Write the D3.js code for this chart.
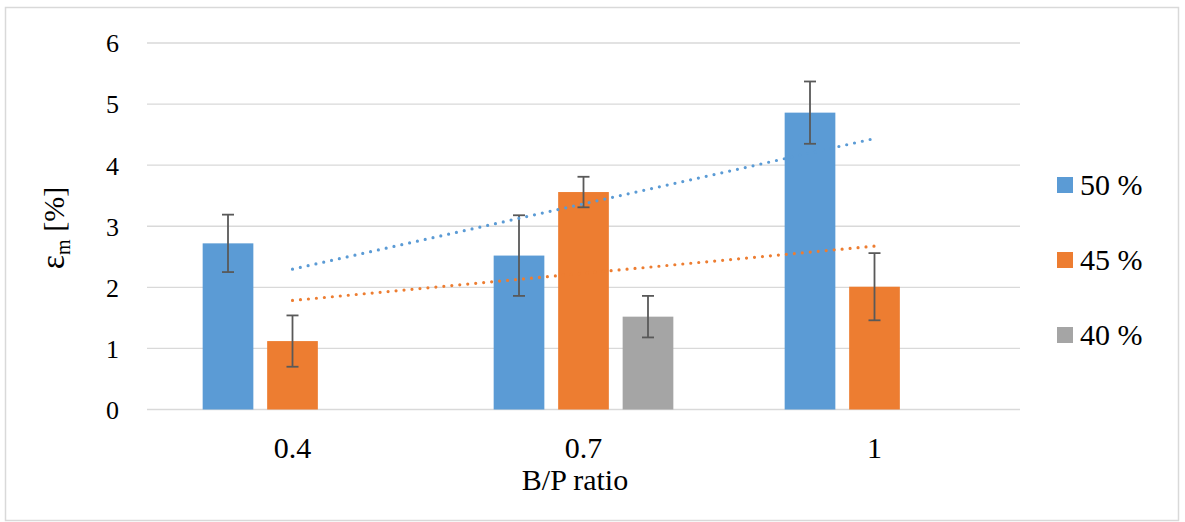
<!DOCTYPE html>
<html>
<head>
<meta charset="utf-8">
<script src="https://cdn.jsdelivr.net/npm/d3@7"></script>
<style>
  html, body { margin: 0; padding: 0; background: #fff; }
  svg { display: block; }
</style>
</head>
<body>
<svg id="chart" width="1185" height="522" font-family="'Liberation Serif', 'Times New Roman', 'DejaVu Serif', serif"></svg>
<script>
// ---- data ----
const categories = ["0.4", "0.7", "1"];
const seriesNames = ["50 %", "45 %", "40 %"];
const values50 = [2.72, 2.52, 4.86];
const values45 = [1.12, 3.56, 2.01];
const values40 = [null, 1.52, null];
const err50 = [0.47, 0.66, 0.51];
const err45 = [0.42, 0.25, 0.55];
const err40 = [null, 0.34, null];
const yTicks = [0, 1, 2, 3, 4, 5, 6];
const seriesColors = ["#5B9BD5", "#ED7D31", "#A5A5A5"];

const allValues = [values50, values45, values40];
const allErrors = [err50, err45, err40];
const FONT = "'Liberation Serif', 'Times New Roman', 'DejaVu Serif', serif";

// ---- layout ----
const svg = d3.select("#chart");
const plot = { left: 147, right: 1020, top: 43, bottom: 409.5 };

// chart border
svg.append("rect")
  .attr("x", 5.5).attr("y", 7.5)
  .attr("width", 1173).attr("height", 513)
  .attr("fill", "none").attr("stroke", "#D9D9D9").attr("stroke-width", 1.5);

const y = d3.scaleLinear().domain([0, 6]).range([plot.bottom, plot.top]);
const x0 = d3.scaleBand().domain(categories).range([plot.left, plot.right]).padding(0);
const x1 = d3.scaleBand().domain(seriesNames).range([0, x0.bandwidth()])
  .paddingInner(0.214).paddingOuter(0.863);

// gridlines
svg.append("g").selectAll("line").data(yTicks).join("line")
  .attr("x1", plot.left).attr("x2", plot.right)
  .attr("y1", d => y(d)).attr("y2", d => y(d))
  .attr("stroke", "#D9D9D9").attr("stroke-width", 1.3);

// y axis tick labels
const yAxis = d3.axisLeft(y).tickValues(yTicks).tickSize(0).tickPadding(0).tickFormat(d3.format("d"));
const gy = svg.append("g").attr("transform", "translate(119,0)").call(yAxis)
  .attr("font-family", FONT).attr("font-size", 26);
gy.select(".domain").remove();
gy.selectAll("text").attr("font-family", FONT).attr("font-size", 26)
  .attr("fill", "#000").attr("dy", "0.34em");

// x axis labels
const xAxis = d3.axisBottom(x0).tickSize(0).tickPadding(0);
const gx = svg.append("g").attr("transform", "translate(0,457.5)").call(xAxis)
  .attr("font-family", FONT).attr("font-size", 30);
gx.select(".domain").remove();
gx.selectAll("text").attr("font-family", FONT).attr("font-size", 30)
  .attr("fill", "#000").attr("dy", 0).attr("y", 0);

// bars
const barData = [];
categories.forEach((c, ci) => {
  seriesNames.forEach((s, si) => {
    const v = allValues[si][ci];
    if (v != null) barData.push({ c, s, si, v, e: allErrors[si][ci] });
  });
});

svg.append("g").selectAll("rect").data(barData).join("rect")
  .attr("x", d => x0(d.c) + x1(d.s))
  .attr("width", x1.bandwidth())
  .attr("y", d => y(d.v))
  .attr("height", d => y(0) - y(d.v))
  .attr("fill", d => seriesColors[d.si]);

// error bars
const eg = svg.append("g").attr("stroke", "#595959").attr("stroke-width", 1.8);
barData.forEach(d => {
  const cx = x0(d.c) + x1(d.s) + x1.bandwidth() / 2;
  eg.append("line").attr("x1", cx).attr("x2", cx).attr("y1", y(d.v + d.e)).attr("y2", y(d.v - d.e));
  eg.append("line").attr("x1", cx - 6).attr("x2", cx + 6).attr("y1", y(d.v + d.e)).attr("y2", y(d.v + d.e));
  eg.append("line").attr("x1", cx - 6).attr("x2", cx + 6).attr("y1", y(d.v - d.e)).attr("y2", y(d.v - d.e));
});

// linear trendlines (least squares over category index 1..n)
function trend(vals) {
  const pts = vals.map((v, i) => [i + 1, v]).filter(p => p[1] != null);
  const mx = d3.mean(pts, p => p[0]), my = d3.mean(pts, p => p[1]);
  const slope = d3.sum(pts, p => (p[0] - mx) * (p[1] - my)) / d3.sum(pts, p => (p[0] - mx) ** 2);
  const icpt = my - slope * mx;
  return [1, vals.length].map(xi => [xi, icpt + slope * xi]);
}
const catCenter = i => x0(categories[i - 1]) + x0.bandwidth() / 2;
[0, 1].forEach(si => {
  const t = trend(allValues[si]);
  svg.append("line")
    .attr("x1", catCenter(t[0][0])).attr("y1", y(t[0][1]))
    .attr("x2", catCenter(t[1][0])).attr("y2", y(t[1][1]))
    .attr("stroke", seriesColors[si]).attr("stroke-width", 3.2)
    .attr("stroke-linecap", "round").attr("stroke-dasharray", "0 8");
});

// axis titles
svg.append("text").attr("x", 575).attr("y", 490).attr("text-anchor", "middle")
  .attr("font-family", FONT).attr("font-size", 30).attr("fill", "#000").text("B/P ratio");

const yt = svg.append("text").attr("transform", "translate(64,228) rotate(-90)")
  .attr("text-anchor", "middle").attr("font-family", FONT).attr("font-size", 30).attr("fill", "#000");
yt.append("tspan").attr("font-size", 34).text("ε");
yt.append("tspan").attr("dy", 6).attr("font-size", 20).text("m");
yt.append("tspan").attr("dy", -6).text(" [%]");

// legend
const lg = svg.append("g");
seriesNames.forEach((s, i) => {
  const cy = 185 + i * 75;
  lg.append("rect").attr("x", 1057).attr("y", cy - 8).attr("width", 16).attr("height", 16).attr("fill", seriesColors[i]);
  lg.append("text").attr("x", 1080).attr("y", cy + 10).attr("font-family", FONT).attr("font-size", 30)
    .attr("fill", "#000").text(s);
});
</script>
</body>
</html>
